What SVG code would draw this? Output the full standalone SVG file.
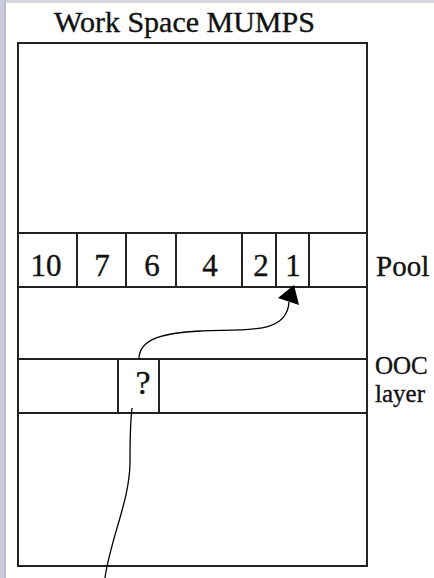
<svg xmlns="http://www.w3.org/2000/svg" width="434" height="578" viewBox="0 0 434 578">
<style>
.box{fill:none;stroke:#222;stroke-width:2}
.ln{stroke:#222;stroke-width:2}
.c{fill:none;stroke:#000;stroke-width:1.3}
.tx{font-family:"Liberation Serif","DejaVu Serif",serif;fill:#111;stroke:#111;stroke-width:0.35}
</style>
<rect x="0" y="0" width="434" height="578" fill="#fff"/>
<rect x="0" y="0" width="434" height="3" fill="#d6d6dc"/>
<rect x="0" y="0" width="6" height="578" fill="#c9cbdd"/>
<rect x="4" y="0" width="1.5" height="578" fill="#b4b7cf"/>
<g id="title"><text class="tx" x="54" y="32" font-size="30">Work Space MUMPS</text></g>
<g id="workspace"><rect class="box" x="18" y="43" width="349" height="523"/></g>
<g id="pool">
<rect class="box" x="18" y="233" width="349" height="54"/>
<line class="ln" x1="77" y1="233" x2="77" y2="287"/>
<line class="ln" x1="126" y1="233" x2="126" y2="287"/>
<line class="ln" x1="176" y1="233" x2="176" y2="287"/>
<line class="ln" x1="242" y1="233" x2="242" y2="287"/>
<line class="ln" x1="276" y1="233" x2="276" y2="287"/>
<line class="ln" x1="309" y1="233" x2="309" y2="287"/>
<g class="tx" font-size="31" text-anchor="middle">
<text x="46" y="276">10</text>
<text x="102" y="276">7</text>
<text x="152" y="276">6</text>
<text x="210" y="276">4</text>
<text x="261" y="276">2</text>
<text x="293" y="276">1</text>
</g>
<text class="tx" x="376" y="276" font-size="29">Pool</text>
</g>
<g id="ooc">
<rect class="box" x="18" y="359" width="349" height="54"/>
<line class="ln" x1="118" y1="359" x2="118" y2="413"/>
<line class="ln" x1="159" y1="359" x2="159" y2="413"/>
<text class="tx" x="143" y="394" font-size="34" text-anchor="middle">?</text>
<text class="tx" x="375" y="374" font-size="25">OOC</text>
<text class="tx" x="375" y="402" font-size="25">layer</text>
</g>
<g id="connectors">
<path class="c" d="M139,359 C139,338 165,333 200,331 C245,329 287,335 289,302"/>
<polygon points="294,285 278,298 299,305" fill="#000"/>
<path class="c" d="M132,408 C130,425 130,445 130,462 C130,500 110,540 105,578"/>
</g>
</svg>
